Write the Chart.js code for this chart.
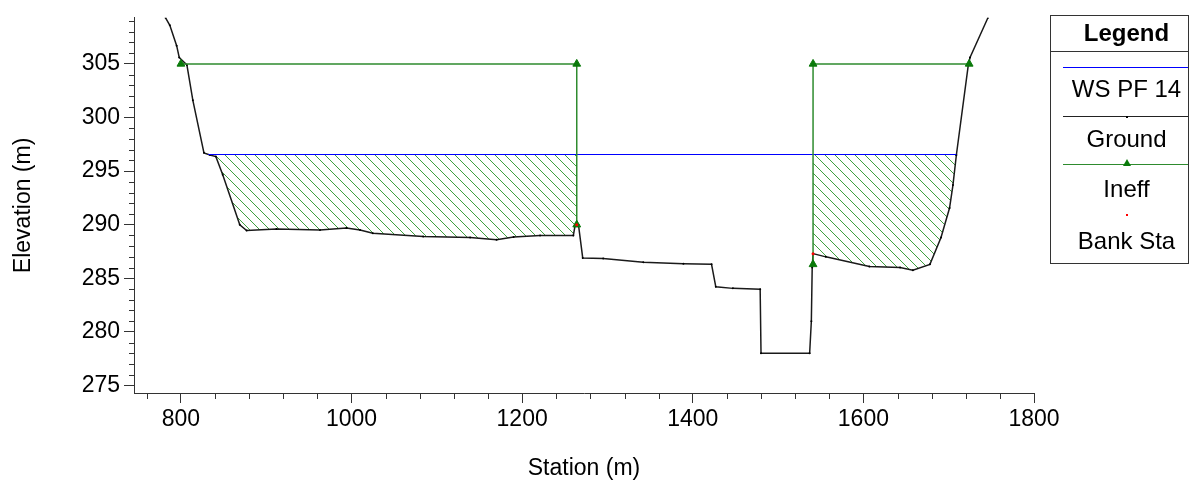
<!DOCTYPE html>
<html>
<head>
<meta charset="utf-8">
<title>Cross section</title>
<script src="https://cdn.jsdelivr.net/npm/chart.js@4.4.0/dist/chart.umd.min.js"></script>
<style>
  body { margin: 0; background: #fff; }
  #wrap { position: relative; width: 1192px; height: 483px; font-family: 'Liberation Sans', Arial, sans-serif; color: #000; }
  #legend { position: absolute; left: 1050px; top: 15px; width: 139px; height: 249px; border: 1px solid #333; box-sizing: border-box; background: #fff; }
  #legend .head { position: absolute; left: 0; top: 0; width: 100%; height: 36px; border-bottom: 1px solid #333; box-sizing: border-box; }
  #legend .txt { position: absolute; left: 11px; width: 129px; text-align: center; font-size: 24px; line-height: 26px; height: 26px; }
  #legend .head .txt { font-weight: bold; font-size: 24px; top: 4px; }
  #legend .line { position: absolute; left: 12px; width: 125px; height: 0; }
  #legend .mk { position: absolute; }
</style>
</head>
<body>
<div id="wrap">
  <canvas id="chart" width="1192" height="483"></canvas>
  <div id="legend">
    <div class="head"><div class="txt">Legend</div></div>
    <div class="line" style="top:51px; border-top:1px solid #0000ff;"></div>
    <div class="txt" style="top:60px;">WS PF 14</div>
    <div class="line" style="top:100px; border-top:1px solid #222;"></div>
    <div class="mk" style="left:75px; top:100px; width:2px; height:2px; background:#000;"></div>
    <div class="txt" style="top:110px;">Ground</div>
    <div class="line" style="top:148px; border-top:1px solid #2e8b2e;"></div>
    <div class="mk" style="left:72px; top:143px; width:0; height:0; border-left:4px solid transparent; border-right:4px solid transparent; border-bottom:7px solid #0a7a0a;"></div>
    <div class="txt" style="top:160px;">Ineff</div>
    <div class="mk" style="left:75px; top:198px; width:2px; height:2px; background:#ff0000;"></div>
    <div class="txt" style="top:212px;">Bank Sta</div>
  </div>
</div>
<script>
// cross section data (station m, elevation m)
const groundSta = [782, 787, 795, 798, 807, 814, 827, 834, 841, 849, 869, 877, 912, 963, 994, 1010, 1025, 1084, 1139, 1170, 1190, 1221, 1260, 1262, 1266, 1271, 1295, 1342, 1389, 1422, 1427, 1447, 1479, 1480, 1537, 1539, 1540, 1541, 1556, 1607, 1643, 1658, 1678, 1691, 1701, 1705, 1709, 1723, 1725, 1746];
const groundElev = [309.3, 308.6, 306.7, 305.6, 304.9, 301.6, 296.7, 296.5, 296.35, 294.65, 290.0, 289.45, 289.6, 289.5, 289.7, 289.5, 289.2, 288.9, 288.8, 288.6, 288.85, 289.0, 289.0, 289.9, 290.0, 286.9, 286.85, 286.5, 286.35, 286.3, 284.2, 284.06, 283.97, 278.0, 278.0, 281.0, 286.0, 287.3, 287.0, 286.1, 286.0, 285.75, 286.3, 288.8, 291.55, 293.7, 296.5, 304.9, 305.6, 309.3];

const wsSta = [832, 1709];
const wsElev = [296.55, 296.55];

const ineffLeftSta = [800, 1264, 1264];
const ineffLeftElev = [305, 305, 290];
const ineffRightSta = [1541, 1541, 1724];
const ineffRightElev = [286.3, 305, 305];

const bankSta = [1264, 1541];
const bankElev = [290.0, 287.3];

// hatched ineffective flow below the water surface
const hatchRanges = [[841, 1264], [1541, 1709]];

const xTicks = [800, 1000, 1200, 1400, 1600, 1800];
const yTicks = [275, 280, 285, 290, 295, 300, 305];
const xMinorStep = 40;
const yMinorStep = 1;

function pts(xs, ys) {
  return xs.map((x, i) => ({ x: x, y: ys[i] }));
}

function groundAt(s) {
  for (let i = 0; i < groundSta.length - 1; i++) {
    if (s >= groundSta[i] && s <= groundSta[i + 1]) {
      const t = (s - groundSta[i]) / (groundSta[i + 1] - groundSta[i]);
      return groundElev[i] + t * (groundElev[i + 1] - groundElev[i]);
    }
  }
  return null;
}

function hatchPolygon(a, b, ws) {
  const poly = [{ x: a, y: ws }, { x: b, y: ws }, { x: b, y: groundAt(b) }];
  for (let i = groundSta.length - 1; i >= 0; i--) {
    if (groundSta[i] > a && groundSta[i] < b) poly.push({ x: groundSta[i], y: groundElev[i] });
  }
  poly.push({ x: a, y: groundAt(a) });
  return poly;
}

function makeHatch() {
  const c = document.createElement('canvas');
  c.width = 10; c.height = 10;
  const g = c.getContext('2d');
  g.strokeStyle = '#3f9f3f';
  g.lineWidth = 1;
  g.beginPath();
  g.moveTo(0, 0); g.lineTo(10, 10);
  g.moveTo(-5, 5); g.lineTo(5, 15);
  g.moveTo(5, -5); g.lineTo(15, 5);
  g.stroke();
  return document.getElementById('chart').getContext('2d').createPattern(c, 'repeat');
}

const hatch = makeHatch();
const axisColor = '#333';
const font = { family: "'Liberation Sans', Arial, sans-serif", size: 23 };

// small ticks between the labelled ones
const minorTicks = {
  id: 'minorTicks',
  afterDraw(chart) {
    const { ctx, scales: { x, y } } = chart;
    ctx.save();
    ctx.strokeStyle = axisColor;
    ctx.lineWidth = 1;
    ctx.beginPath();
    for (let v = Math.ceil(x.min / xMinorStep) * xMinorStep; v <= x.max; v += xMinorStep) {
      if (xTicks.includes(v)) continue;
      const px = Math.round(x.getPixelForValue(v)) + 0.5;
      ctx.moveTo(px, y.bottom);
      ctx.lineTo(px, y.bottom + 6);
    }
    for (let v = Math.ceil(y.min); v <= y.max; v += yMinorStep) {
      if (yTicks.includes(v)) continue;
      const py = Math.round(y.getPixelForValue(v)) + 0.5;
      ctx.moveTo(x.left - 5, py);
      ctx.lineTo(x.left, py);
    }
    ctx.stroke();
    ctx.restore();
  }
};

const datasets = [
  { label: 'Bank Sta', data: pts(bankSta, bankElev), showLine: false, pointRadius: 1.5, pointBackgroundColor: '#ff0000', pointBorderColor: '#ff0000', pointBorderWidth: 0 },
  { label: 'Ineff', data: pts(ineffLeftSta, ineffLeftElev), showLine: true, borderColor: '#2e8b2e', borderWidth: 1.5, pointStyle: 'triangle', pointRadius: 4.5, pointBackgroundColor: '#0a7a0a', pointBorderColor: '#0a7a0a', pointBorderWidth: 1 },
  { label: 'Ineff', data: pts(ineffRightSta, ineffRightElev), showLine: true, borderColor: '#2e8b2e', borderWidth: 1.5, pointStyle: 'triangle', pointRadius: 4.5, pointBackgroundColor: '#0a7a0a', pointBorderColor: '#0a7a0a', pointBorderWidth: 1 },
  { label: 'WS PF 14', data: pts(wsSta, wsElev), showLine: true, borderColor: '#0000ff', borderWidth: 1.2, pointRadius: 0 },
  { label: 'Ground', data: pts(groundSta, groundElev), showLine: true, borderColor: '#1a1a1a', borderWidth: 1.5, pointRadius: 1, pointBackgroundColor: '#000', pointBorderColor: '#000', pointBorderWidth: 0 }
];
hatchRanges.forEach(r => {
  datasets.push({ label: 'hatch', data: hatchPolygon(r[0], r[1], wsElev[0]), showLine: true, fill: 'shape', backgroundColor: hatch, borderColor: 'transparent', borderWidth: 0, pointRadius: 0 });
});

new Chart(document.getElementById('chart'), {
  type: 'scatter',
  data: { datasets: datasets },
  options: {
    responsive: false,
    animation: false,
    devicePixelRatio: 1,
    layout: { padding: { top: 16, right: 158, left: 0, bottom: 0 } },
    plugins: { legend: { display: false }, tooltip: { enabled: false } },
    scales: {
      x: {
        type: 'linear', min: 745, max: 1800,
        afterBuildTicks: s => { s.ticks = xTicks.map(v => ({ value: v })); },
        afterFit: s => { s.height = 90; },
        ticks: { font: font, color: '#000', padding: 3, maxRotation: 0, autoSkip: false, callback: v => String(v) },
        grid: { drawOnChartArea: false, tickLength: 10, tickColor: axisColor, tickWidth: 1 },
        border: { color: axisColor, width: 1 },
        title: { display: true, text: 'Station (m)', font: font, color: '#000', padding: { top: 0, bottom: 1 } }
      },
      y: {
        type: 'linear', min: 274.3, max: 309.3,
        afterBuildTicks: s => { s.ticks = yTicks.map(v => ({ value: v })); },
        afterFit: s => { s.width = 134; },
        ticks: { font: font, color: '#000', padding: 4, callback: v => String(v) },
        grid: { drawOnChartArea: false, tickLength: 10, tickColor: axisColor, tickWidth: 1 },
        border: { color: axisColor, width: 1 },
        title: { display: true, text: 'Elevation (m)', font: font, color: '#000', padding: { top: 10, bottom: 0 } }
      }
    }
  },
  plugins: [minorTicks]
});
</script>
</body>
</html>
